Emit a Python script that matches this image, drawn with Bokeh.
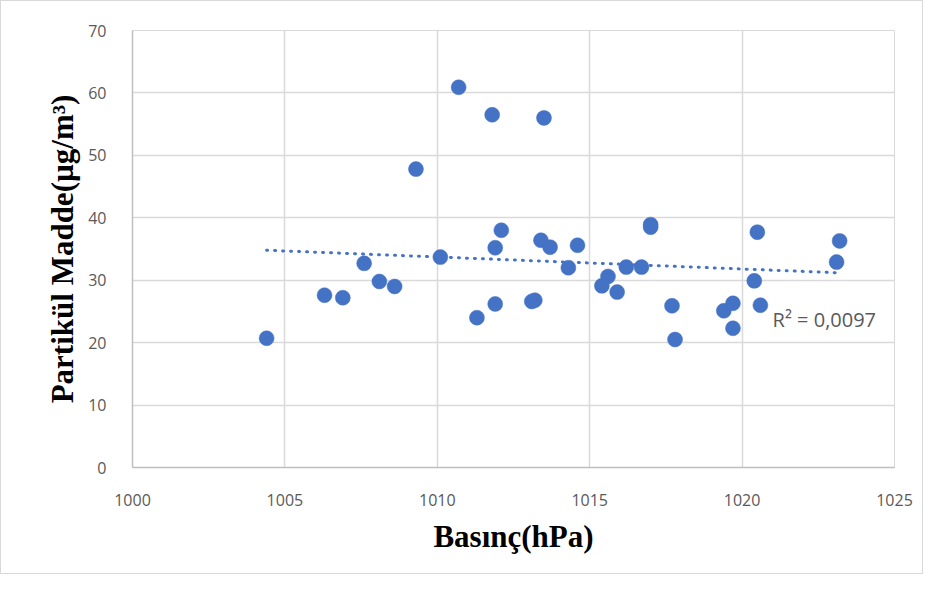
from bokeh.plotting import figure
from bokeh.models import FixedTicker, Range1d, Label
from bokeh.embed import file_html
from bokeh.resources import INLINE

pressure = [1004.4, 1006.3, 1006.9, 1007.6, 1008.1, 1008.6, 1009.3, 1010.1, 1010.7, 1011.3,
            1011.8, 1011.9, 1011.9, 1012.1, 1013.1, 1013.2, 1013.4, 1013.5, 1013.7, 1014.3,
            1014.6, 1015.4, 1015.6, 1015.9, 1016.2, 1016.7, 1017.0, 1017.0, 1017.7, 1017.8,
            1019.4, 1019.7, 1019.7, 1020.4, 1020.5, 1020.6, 1023.1, 1023.2]
pm = [20.7, 27.6, 27.2, 32.7, 29.8, 29.0, 47.8, 33.7, 60.9, 24.0,
      56.5, 26.2, 35.2, 38.0, 26.6, 26.8, 36.4, 56.0, 35.3, 32.0,
      35.6, 29.1, 30.6, 28.1, 32.1, 32.1, 38.9, 38.5, 25.9, 20.5,
      25.1, 26.3, 22.3, 29.9, 37.7, 26.0, 32.9, 36.3]
trend_x = [1004.4, 1023.1]
trend_y = [34.8, 31.2]
x_ticks = [1000, 1005, 1010, 1015, 1020, 1025]
y_ticks = [0, 10, 20, 30, 40, 50, 60, 70]
r2_text = "R² = 0,0097"

p = figure(width=923, height=574, output_backend="svg", toolbar_location=None,
           x_range=Range1d(1000, 1025), y_range=Range1d(0, 70),
           min_border_left=131, min_border_right=30, min_border_top=29, min_border_bottom=108)
p.styles = {"border": "1px solid #d9d9d9"}
p.outline_line_color = "#d9d9d9"
p.outline_line_width = 1

blue = "#4472C4"
p.line(trend_x, trend_y, line_color=blue, line_width=3, line_dash="1 7", line_cap="round")
p.scatter(pressure, pm, size=15, fill_color=blue, line_color=blue, line_width=0.5)

for ax in (p.xaxis[0], p.yaxis[0]):
    ax.axis_line_color = "#bfbfbf"
    ax.axis_line_width = 1.5
    ax.major_tick_line_color = None
    ax.minor_tick_line_color = None
    ax.major_label_text_color = "#595959"
    ax.major_label_text_font = "Open Sans"
    ax.major_label_text_font_size = "16px"
    ax.axis_label_text_font = "Liberation Serif"
    ax.axis_label_text_font_style = "bold"
    ax.axis_label_text_font_size = "31px"
    ax.axis_label_text_color = "#000000"

p.xaxis.ticker = FixedTicker(ticks=x_ticks)
p.yaxis.ticker = FixedTicker(ticks=y_ticks)
p.xaxis.axis_label = "Basınç(hPa)"
p.yaxis.axis_label = "Partikül Madde(µg/m³)"
p.xaxis.major_label_standoff = 20
p.yaxis.major_label_standoff = 20
p.xaxis.axis_label_standoff = 10
p.yaxis.axis_label_standoff = 5

p.xgrid.ticker = FixedTicker(ticks=x_ticks)
p.ygrid.ticker = FixedTicker(ticks=y_ticks)
p.grid.grid_line_color = "#d9d9d9"
p.grid.grid_line_width = 1.5

p.add_layout(Label(x=1021.0, y=23.7, text=r2_text, text_color="#595959",
                   text_font="Open Sans", text_font_size="20px",
                   text_baseline="middle"))

open("out.html", "w").write(file_html(p, INLINE))
